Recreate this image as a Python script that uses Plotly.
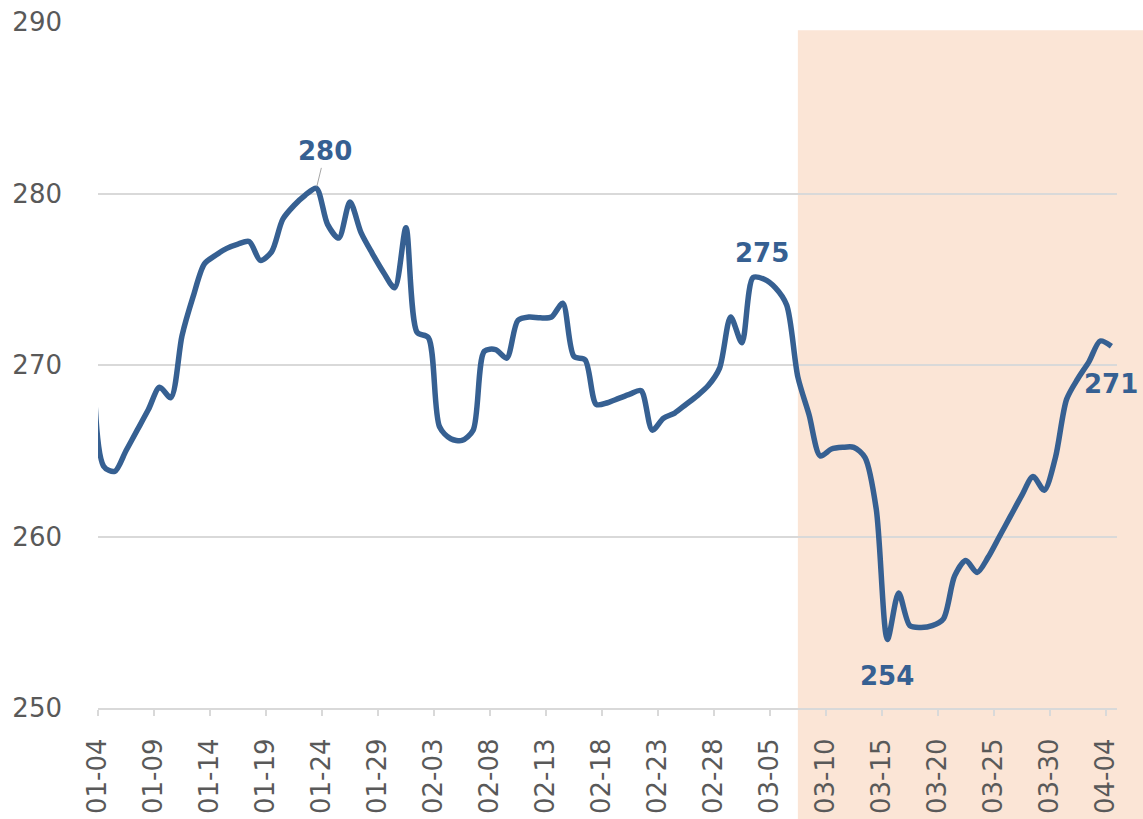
import pandas as pd
import plotly.graph_objects as go

# Daily series (one day before the first tick so the line enters the plot area)
dates = pd.date_range("2025-01-03", "2025-04-04", freq="D")
values = [
    289.0, 264.1, 263.8, 265.0, 266.2, 267.4, 268.7, 268.1, 271.7, 274.0,
    275.9, 276.4, 276.8, 277.05, 277.2, 276.1, 276.6, 278.5, 279.3, 279.9,
    280.3, 278.2, 277.4, 279.5, 277.7, 276.5, 275.4, 274.5, 278.0, 271.9,
    271.6, 266.4, 265.7, 265.6, 266.2, 270.8, 270.9, 270.4, 272.6, 272.8,
    272.75, 272.8, 273.6, 270.5, 270.3, 267.7, 267.8, 268.05, 268.3, 268.5,
    266.2, 266.9, 267.2, 267.7, 268.2, 268.8, 269.8, 272.8, 271.3, 275.1,
    275.0, 274.5, 273.5, 269.3, 267.1, 264.7, 265.1, 265.2, 265.2, 264.6,
    261.6, 254.0, 256.7, 254.8, 254.7, 254.8, 255.2, 257.7, 258.6, 257.9,
    258.8, 260.0, 261.2, 262.4, 263.5, 262.7, 264.6, 268.0, 269.2, 270.2,
    271.4, 271.1,
]

# Labelled points
label_dates = ["2025-01-23", "2025-03-03", "2025-03-15", "2025-04-04"]

# Highlighted period
shade_start = pd.Timestamp("2025-03-07 12:00")

x_start = pd.Timestamp("2025-01-04")
x_end = pd.Timestamp("2025-04-05")

LINE = "#366092"
GREY_TXT = "#595959"
GRID = "#D9D9D9"
FONT = "DejaVu Sans"

# points are placed mid-day
xs = dates + pd.Timedelta(hours=12)
series = pd.Series(values, index=dates)

fig = go.Figure()
fig.add_trace(go.Scatter(
    x=xs, y=values, mode="lines",
    line=dict(color=LINE, width=5.5, shape="spline", smoothing=0.8),
    hoverinfo="skip", showlegend=False,
))

span = (x_end - x_start) / pd.Timedelta(days=1)
x0_frac = ((shade_start - x_start) / pd.Timedelta(days=1)) / span
fig.add_shape(type="rect", xref="paper", yref="paper",
              x0=x0_frac, x1=1.05, y0=-0.25, y1=0.988,
              fillcolor="#FBE5D6", line=dict(width=0), layer="below")

offsets = {
    "2025-01-23": dict(showarrow=True, ax=9, ay=-37),
    "2025-03-03": dict(showarrow=False, xshift=9, yshift=25),
    "2025-03-15": dict(showarrow=False, xshift=0, yshift=-37),
    "2025-04-04": dict(showarrow=False, xshift=0, yshift=-38),
}
for d in label_dates:
    v = series[pd.Timestamp(d)]
    kw = offsets[d]
    fig.add_annotation(
        x=pd.Timestamp(d) + pd.Timedelta(hours=12), y=v, xref="x", yref="y",
        text=f"<b>{round(v)}</b>",
        font=dict(family=FONT, size=26, color=LINE),
        arrowhead=0, arrowwidth=1, arrowcolor="#A6A6A6", standoff=2,
        **kw,
    )

fig.update_layout(
    width=1143, height=819,
    margin=dict(l=98, r=26, t=22, b=111),
    paper_bgcolor="white", plot_bgcolor="rgba(0,0,0,0)",
    font=dict(family=FONT, color=GREY_TXT, size=26),
    showlegend=False,
)
fig.update_xaxes(
    type="date", range=[x_start, x_end], automargin=False,
    tick0=x_start, dtick=5 * 86400000, tickformat="%m-%d",
    tickangle=-90, ticks="outside", ticklen=6, tickcolor=GRID, tickwidth=2,
    showline=True, linecolor=GRID, linewidth=2,
    showgrid=False, zeroline=False,
    tickfont=dict(family=FONT, size=26, color=GREY_TXT),
    ticklabelstandoff=12,
)
fig.update_yaxes(
    range=[250, 290], dtick=10, tick0=250, automargin=False,
    showgrid=True, gridcolor=GRID, gridwidth=2,
    zeroline=False, showline=False, ticks="",
    tickfont=dict(family=FONT, size=26, color=GREY_TXT),
    ticklabelstandoff=35,
)

fig.write_html("out.html", config={"displayModeBar": False},
               post_script="document.body.style.margin='0';")
